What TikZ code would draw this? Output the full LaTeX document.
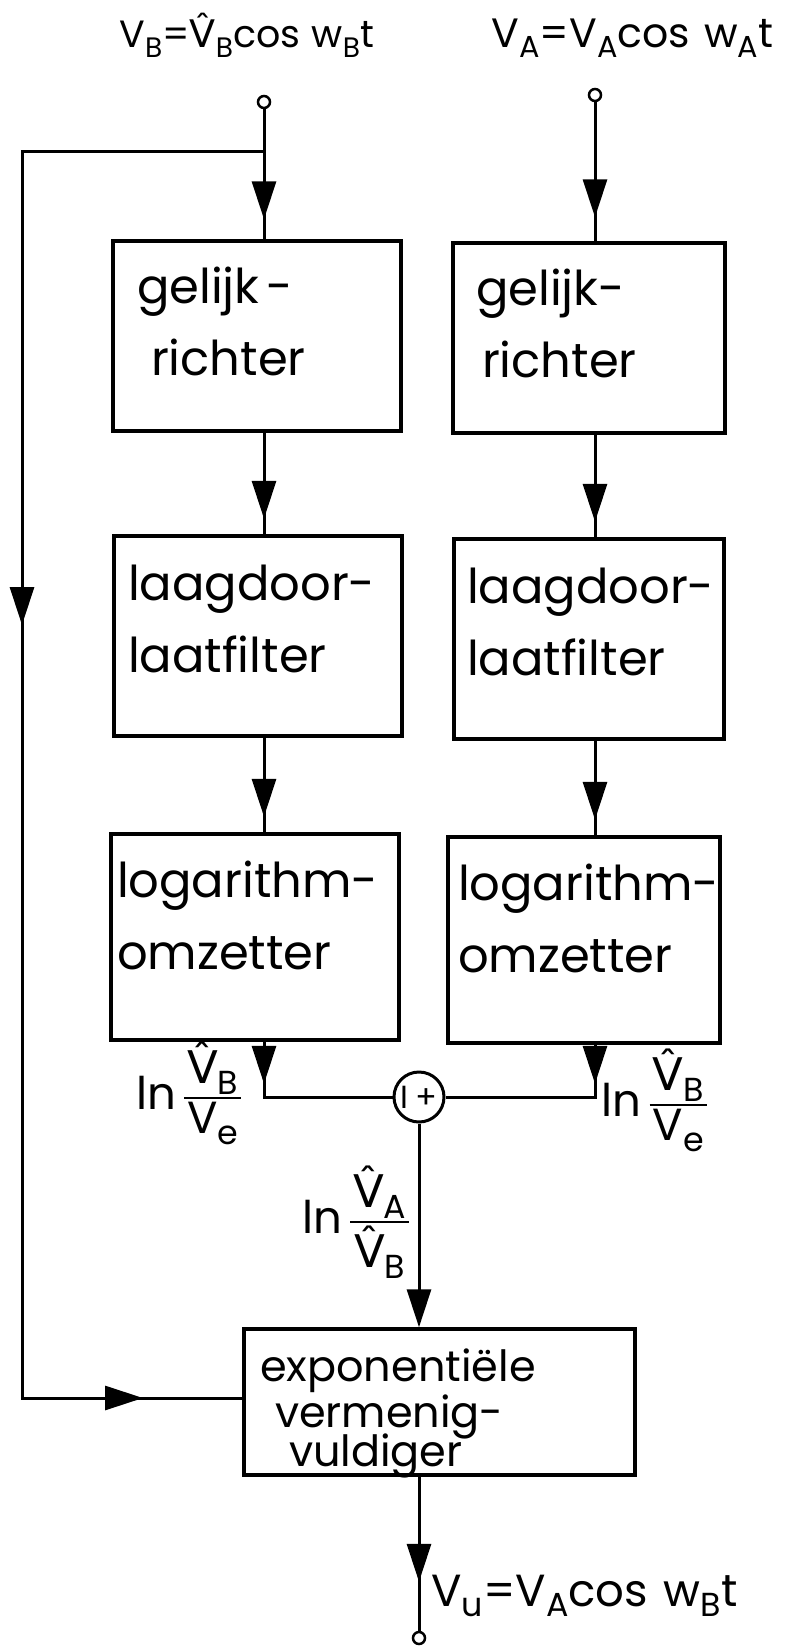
\RequirePackage{fix-cm}
\documentclass[tikz,border=0pt]{standalone}
\usepackage{amsmath}
\usepackage{fontspec}
\setmainfont{Poppins}
\newfontfamily\dvs{DejaVu Sans}
\usetikzlibrary{arrows.meta,decorations.markings}
\hyphenpenalty=10000
\exhyphenpenalty=10000
\makeatletter
\newcommand\mysub[1]{\raisebox{-0.24em}{\fontsize{\fpeval{0.74*\f@size}}{0}\selectfont #1}}
\makeatother
\newcommand\hatV{{\dvs\^{V}}}
\newcommand\myfr[2]{$\genfrac{}{}{2.6pt}{}{\mbox{\hspace*{3pt}#1\hspace*{3pt}}}{\mbox{\hspace*{3pt}#2\hspace*{3pt}}}$}
\begin{document}
\begin{tikzpicture}[x=1pt,y=-1pt,
  line width=3pt,
  lbl/.style={font=\fontsize{45}{52}\selectfont, inner sep=0pt},
  blk/.style n args={4}{draw, line width=3.5pt, rectangle, minimum width=#1, minimum height=#2,
     text width=#3, inner xsep=#4, inner ysep=0pt, align=left, text height=38pt,
     font=\fontsize{48}{72}\selectfont},
  port/.style={draw, circle, line width=2.5pt, minimum size=12pt, inner sep=0pt},
  tipat/.style={postaction={decorate}, decoration={markings,
     mark=at position #1 with {\arrow{Triangle[length=38pt,width=24pt]}}}},
]
\fill[white] (0,0) rectangle (795,1646);
\useasboundingbox (0,0) rectangle (795,1646);

% blocks
\node[blk={288pt}{190pt}{240pt}{24pt}, text depth=103pt] (gL) at (257,336) {gelijk\hspace{7pt}-\\\hspace*{14pt}richter};
\node[blk={272pt}{190pt}{226pt}{23pt}, text depth=103pt] (gR) at (589,338) {gelijk-\\\hspace*{6pt}richter};
\node[blk={288pt}{200pt}{260pt}{14pt}, text depth=109pt] (lL) at (258,636) {laagdoor-\\laatfilter};
\node[blk={270pt}{200pt}{244pt}{13pt}, text depth=109pt] (lR) at (589,639) {laagdoor-\\laatfilter};
\node[blk={288pt}{206pt}{276pt}{6pt}, text depth=117pt] (oL) at (255,937) {logarithm-\\omzetter};
\node[blk={272pt}{206pt}{252pt}{10pt}, text depth=117pt] (oR) at (584,940) {logarithm-\\omzetter};
\node[draw, line width=3.5pt, rectangle, minimum width=391pt, minimum height=146pt,
      text width=359pt, inner xsep=16pt, inner ysep=0pt, align=left,
      text height=35pt, text depth=77pt,
      font=\fontsize{43}{46}\selectfont] (exp) at (439.5,1402)
      {exponenti\"ele\\\hspace*{15pt}vermenig-\\[-7pt]\hspace*{29pt}vuldiger};

% summing point
\node[draw, circle, line width=3pt, minimum size=50pt, inner sep=0pt,
      font=\fontsize{32}{32}\selectfont] (sum) at (419,1097) {I\hspace{7pt}+};

% ports
\node[port] (inL) at (264,102) {};
\node[port] (inR) at (595,95) {};
\node[port] (out) at (419,1638) {};

% labels
\node[lbl, anchor=base west, font=\fontsize{38}{44}\selectfont] (tB) at (118,48) {V\mysub{B}=\hatV\mysub{B}cos\hspace{0.3em}w\mysub{B}t};
\node[lbl, anchor=base west, font=\fontsize{41}{44}\selectfont] (tA) at (490,48) {V\mysub{A}=V\mysub{A}cos\hspace{0.35em}w\mysub{A}t};
\node[lbl, anchor=east] (lnL) at (244,1093) {ln\hspace{7pt}\myfr{\hatV\mysub{B}}{V\mysub{e}}};
\node[lbl, anchor=west] (lnR) at (600,1100) {ln\hspace{7pt}\myfr{\hatV\mysub{B}}{V\mysub{e}}};
\node[lbl, anchor=east] (lnM) at (412,1222) {ln\hspace{7pt}\myfr{\hatV\mysub{A}}{\hatV\mysub{B}}};
\node[lbl, anchor=base west, font=\fontsize{45}{48}\selectfont] (tU) at (430,1606) {V\mysub{u}=V\mysub{A}cos\hspace{0.35em}w\mysub{B}t};

% junction corners
\coordinate (jL) at (264,1097);
\coordinate (jR) at (595,1097);
\coordinate (br) at (264,151);
\coordinate (fbT) at (22,151);
\coordinate (fbB) at (22,1398);

% left chain
\draw[tipat=110pt] (inL.south) -- (inL |- gL.north);
\draw[tipat=86pt] (inL |- gL.south) -- (inL |- lL.north);
\draw[tipat=79pt] (inL |- lL.south) -- (inL |- oL.north);
\draw[tipat=42pt] (inL |- oL.south) -- (jL) -- (sum.west);

% right chain
\draw[tipat=115pt] (inR.south) -- (inR |- gR.north);
\draw[tipat=87pt] (inR |- gR.south) -- (inR |- lR.north);
\draw[tipat=79pt] (inR |- lR.south) -- (inR |- oR.north);
\draw[tipat=39pt] (inR |- oR.south) -- (jR) -- (sum.east);

% feedback
\draw[postaction={decorate}, decoration={markings,
   mark=at position 716pt with {\arrow{Triangle[length=38pt,width=24pt]}},
   mark=at position 1610pt with {\arrow{Triangle[length=38pt,width=24pt]}}}]
   (br) -- (fbT) -- (fbB) -- (exp.west |- fbB);

% to and from the multiplier
\draw[-{Triangle[length=38pt,width=24pt]}] (sum.south) -- (sum.south |- exp.north);
\draw[tipat=105pt] (sum |- exp.south) -- (out.north);
\end{tikzpicture}
\end{document}
